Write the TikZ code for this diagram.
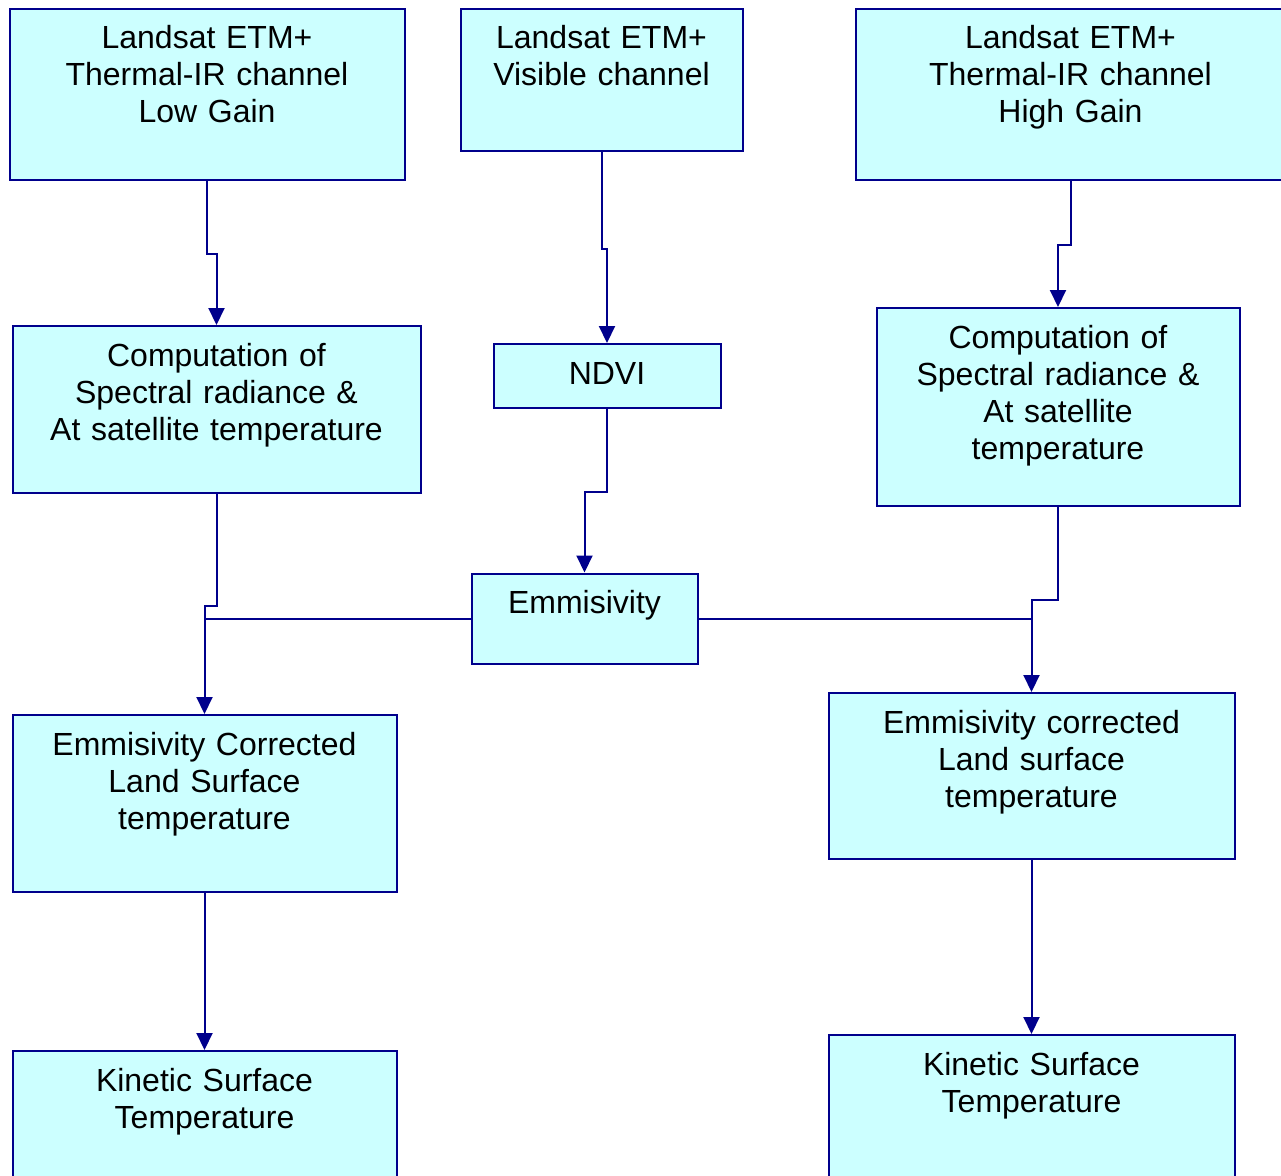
\documentclass[tikz,border=0pt]{standalone}
\usepackage{fontspec}
\setmainfont{Liberation Sans}
\usetikzlibrary{arrows.meta}

\definecolor{boxfill}{HTML}{CCFFFF}
\definecolor{navyline}{RGB}{0,0,140}

\tikzset{
  blk/.style={draw=navyline, fill=boxfill, line width=1pt, inner sep=0pt,
    anchor=north west, align=center, text height=20pt,
    font=\fontsize{16}{18.5}\selectfont},
  link/.style={draw=navyline, line width=1pt},
  arr/.style={link, -{Triangle[length=8.5pt,width=8pt]}}
}

\begin{document}
\begin{tikzpicture}[x=0.5pt, y=-0.5pt]
            \useasboundingbox (0,0) rectangle (1281,1175);
            \clip (0,0) rectangle (1281,1175);

            % Input channels
            \node[blk, text width=197.5pt, text depth=65.5pt] (tlow) at (8.5,7.5) {Landsat ETM+\\Thermal-IR channel\\Low Gain};
            \node[blk, text width=141pt, text depth=51pt] (vis) at (459.5,7.5) {Landsat ETM+\\Visible channel};
            \node[blk, text width=215pt, text depth=65.5pt] (thigh) at (854.5,7.5) {Landsat ETM+\\Thermal-IR channel\\High Gain};

            % Radiance, NDVI and emissivity
            \node[blk, text width=204pt, text depth=63.5pt] (clow) at (11.5,325) {Computation of\\Spectral radiance \&\\At satellite temperature};
            \node[blk, text width=113.5pt, text depth=12pt] (ndvi) at (492.5,343) {NDVI};
            \node[blk, text width=181.5pt, text depth=79pt] (chigh) at (875.5,307) {Computation of\\Spectral radiance \&\\At satellite\\temperature};
            \node[blk, text width=113pt, text depth=25pt] (emm) at (470.5,572.5) {Emmisivity};

            % Surface temperatures
            \node[blk, text width=192pt, text depth=68.5pt] (llst) at (11.5,714) {Emmisivity Corrected\\Land Surface\\temperature};
            \node[blk, text width=203pt, text depth=63pt] (rlst) at (827.5,692) {Emmisivity corrected\\Land surface\\temperature};
            \node[blk, text width=192pt, text depth=80pt] (lkin) at (11.5,1050) {Kinetic Surface\\Temperature};
            \node[blk, text width=203pt, text depth=80pt] (rkin) at (827.5,1034) {Kinetic Surface\\Temperature};

            % Connectors
            \draw[arr] (tlow.south) -- ++(0,73) -| (clow.north);
            \draw[arr] (vis.south) -- ++(0,97) -| (ndvi.north);
            \draw[arr] (thigh.south) -- ++(0,64) -| (chigh.north);
            \draw[arr] (ndvi.south) -- ++(0,83) -| (emm.north);
            \draw[arr] (clow.south) -- ++(0,112) -| (llst.north);
            \draw[arr] (chigh.south) -- ++(0,93) -| (rlst.north);
            \draw[link] (emm.west) -- (emm.west -| llst.north);
            \draw[link] (emm.east) -- (emm.east -| rlst.north);
            \draw[arr] (llst.south) -- (lkin.north);
            \draw[arr] (rlst.south) -- (rkin.north);
        \end{tikzpicture}
\end{document}
